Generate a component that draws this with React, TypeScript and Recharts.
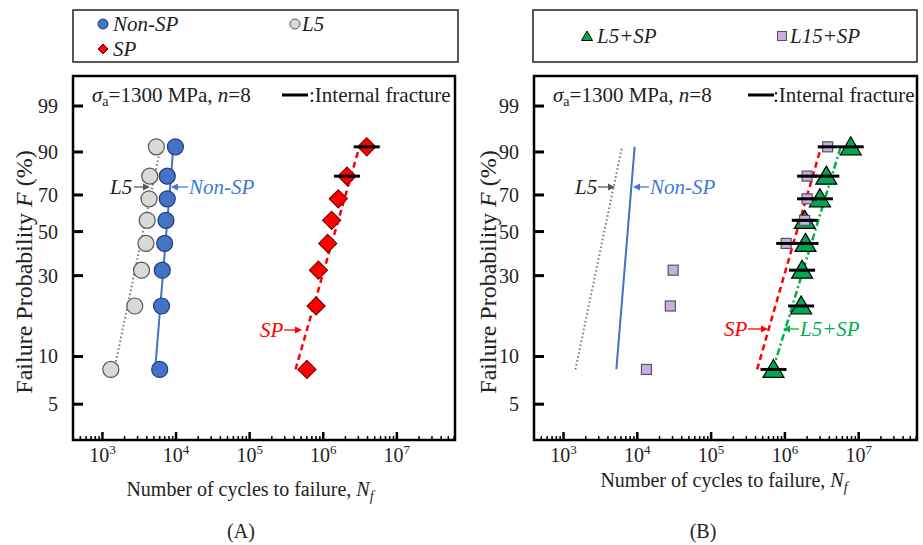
import React from 'react';
import { ScatterChart, Scatter, XAxis, YAxis, ReferenceArea } from 'recharts';

const FONT = '"Liberation Serif", "Times New Roman", Times, serif';

// failure probability (%) of the 8 specimens (median ranks)
const probs = [8.3, 20.2, 32.1, 44.0, 56.0, 67.9, 79.8, 91.7];

// cycles to failure, panel (A)
const nonSpCycles = [6.0e3, 6.35e3, 6.5e3, 7.0e3, 7.3e3, 7.6e3, 7.6e3, 9.8e3];
const l5Cycles = [1.3e3, 2.75e3, 3.4e3, 3.9e3, 4.05e3, 4.3e3, 4.4e3, 5.4e3];
const spCycles = [6.0e5, 8.0e5, 8.6e5, 1.15e6, 1.3e6, 1.6e6, 2.1e6, 3.9e6];
const spInternal = [false, false, false, false, false, false, true, true];

// cycles to failure, panel (B)
const l5spCycles = [7.0e5, 1.66e6, 1.71e6, 1.9e6, 1.86e6, 2.98e6, 3.64e6, 7.8e6];
const l5spInternal = [true, true, true, true, true, true, true, true];
const l15spCycles = [1.33e4, 2.8e4, 3.06e4, 1.04e6, 1.85e6, 2.0e6, 2.0e6, 3.8e6];
const l15spInternal = [false, false, false, true, true, true, true, true];

// fitted lines (end points at the lowest and highest rank)
const fitProbs = [8.3, 91.7];
const l5Fit = [1.45e3, 6.2e3];
const nonSpFit = [5.2e3, 9.2e3];
const spFit = [4.2e5, 3.1e6];
const l5spFit = [6.9e5, 5.7e6];

const probTicks = [5, 10, 30, 50, 70, 90, 99];
const decades = [2, 3, 4, 5, 6, 7];

// weibull probability paper
const weib = (p: number) => Math.log(-Math.log(1 - p / 100));

const X_MIN = 10 ** 2.6;
const X_MAX = 10 ** 7.79;
const Y_MIN = -3.51;
const Y_MAX = 1.98;

const xTicks = decades
  .flatMap((d) => [1, 2, 3, 4, 5, 6, 7, 8, 9].map((m) => m * 10 ** d))
  .filter((v) => v >= X_MIN && v <= X_MAX);
const yTicks = probTicks.map(weib);

const toPoints = (cycles: number[], internal?: boolean[]) =>
  cycles.map((c, i) => ({ x: c, y: weib(probs[i]), internal: internal ? internal[i] : false }));
const toFit = (cycles: number[]) => cycles.map((c, i) => ({ x: c, y: weib(fitProbs[i]) }));

const C = {
  blue: '#4472c4',
  blueText: '#3f78d8',
  grey: '#d9d9d9',
  red: '#ff0000',
  green: '#00a650',
  greenLine: '#00b050',
  purple: '#c9aee6',
};

const XTick = (props: any) => {
  const { x, y, payload } = props;
  const lg = Math.log10(payload.value);
  const major = Math.abs(lg - Math.round(lg)) < 1e-6;
  return (
    <g>
      <line x1={x} x2={x} y1={y} y2={y - (major ? 8 : 4)} stroke="#000" strokeWidth={major ? 2.5 : 1.5} />
      {major && (
        <text x={x} y={y + 22} textAnchor="middle" fontSize={20} style={{ fontFamily: FONT }} fill="#222">
          10<tspan fontSize={13} dy={-8}>{Math.round(lg)}</tspan>
        </text>
      )}
    </g>
  );
};

const YTick = (props: any) => {
  const { x, y, payload } = props;
  const label = Math.round((1 - Math.exp(-Math.exp(payload.value))) * 100);
  return (
    <g>
      <line x1={x} x2={x + 10} y1={y} y2={y} stroke="#000" strokeWidth={3} />
      <text x={x - 15} y={y + 7} textAnchor="end" fontSize={20} style={{ fontFamily: FONT }} fill="#222">
        {label}
      </text>
    </g>
  );
};

const noShape = () => <g />;

const marker = (kind: string, barHalf = 13) => (props: any) => {
  const { cx, cy, payload } = props;
  let m = null;
  if (kind === 'blue') m = <circle cx={cx} cy={cy} r={8} fill={C.blue} stroke="#1f3d7a" strokeWidth={1.2} />;
  if (kind === 'grey') m = <circle cx={cx} cy={cy} r={8} fill={C.grey} stroke="#555" strokeWidth={1.2} />;
  if (kind === 'red')
    m = (
      <polygon
        points={`${cx},${cy - 9} ${cx + 9},${cy} ${cx},${cy + 9} ${cx - 9},${cy}`}
        fill={C.red}
        stroke="#7a0000"
        strokeWidth={1.2}
      />
    );
  if (kind === 'green')
    m = (
      <polygon
        points={`${cx},${cy - 10} ${cx + 10.5},${cy + 8} ${cx - 10.5},${cy + 8}`}
        fill={C.green}
        stroke="#000"
        strokeWidth={1.2}
      />
    );
  if (kind === 'purple')
    m = <rect x={cx - 5} y={cy - 5} width={10} height={10} fill={C.purple} stroke="#555" strokeWidth={1.2} />;
  return (
    <g>
      {m}
      {payload.internal && (
        <line x1={cx - barHalf} x2={cx + barHalf} y1={cy} y2={cy} stroke="#000" strokeWidth={3} />
      )}
    </g>
  );
};

const fitLine = (key: string, cycles: number[], stroke: string, width: number, dash?: string) => (
  <Scatter
    key={key}
    data={toFit(cycles)}
    line={{ stroke, strokeWidth: width, strokeDasharray: dash }}
    shape={noShape}
    isAnimationActive={false}
  />
);

const Panel = ({ left, plotLeft, series }: any) => (
  <div style={{ position: 'absolute', left, top: 0 }}>
    <ScatterChart width={460} height={545} margin={{ top: 76, right: 5, bottom: 75, left: plotLeft - 40 }}>
      <XAxis
        type="number"
        dataKey="x"
        scale="log"
        domain={[X_MIN, X_MAX]}
        ticks={xTicks}
        interval={0}
        allowDataOverflow
        axisLine={false}
        tickLine={false}
        tickSize={0}
        tickMargin={0}
        height={30}
        tick={<XTick />}
      />
      <YAxis
        type="number"
        dataKey="y"
        domain={[Y_MIN, Y_MAX]}
        ticks={yTicks}
        interval={0}
        allowDataOverflow
        axisLine={false}
        tickLine={false}
        tickSize={0}
        tickMargin={0}
        width={40}
        tick={<YTick />}
      />
      {series}
      <ReferenceArea
        x1={X_MIN}
        x2={X_MAX}
        y1={Y_MIN}
        y2={Y_MAX}
        fill="none"
        stroke="#000"
        strokeWidth={2.5}
        ifOverflow="visible"
      />
    </ScatterChart>
  </div>
);

const Arrow = ({ x1, x2, y, color }: any) => {
  const s = Math.sign(x2 - x1);
  return (
    <g>
      <line x1={x1} x2={x2 - s * 5} y1={y} y2={y} stroke={color} strokeWidth={1.3} />
      <polygon points={`${x2},${y} ${x2 - s * 7},${y - 3.5} ${x2 - s * 7},${y + 3.5}`} fill={color} />
    </g>
  );
};

const Notes = ({ ox, lineX, textX }: any) => (
  <g>
    <text x={ox + 92} y={102} fontSize={21}>
      <tspan fontStyle="italic">σ</tspan>
      <tspan fontSize={14} dy={4}>a</tspan>
      <tspan dy={-4}>=1300 MPa, </tspan>
      <tspan fontStyle="italic">n</tspan>=8
    </text>
    <line x1={lineX} x2={lineX + 26} y1={95} y2={95} stroke="#000" strokeWidth={3} />
    <text x={textX} y={102} fontSize={21}>:Internal fracture</text>
  </g>
);

const YTitle = ({ x, y }: any) => (
  <text
    x={x}
    y={y}
    transform={`rotate(-90 ${x} ${y})`}
    textAnchor="middle"
    dominantBaseline="central"
    fontSize={24}
  >
    Failure Probability <tspan fontStyle="italic">F</tspan> (%)
  </text>
);

const XTitle = ({ x, y }: any) => (
  <text x={x} y={y} textAnchor="middle" fontSize={20}>
    Number of cycles to failure, <tspan fontStyle="italic">N</tspan>
    <tspan fontStyle="italic" fontSize={14} dy={5}>f</tspan>
  </text>
);

const App = () => {
  const seriesA = [
    fitLine('fl5', l5Fit, '#777', 2, '1.5 2.5'),
    fitLine('fnon', nonSpFit, C.blue, 2),
    fitLine('fsp', spFit, C.red, 2.5, '6 4'),
    <Scatter key="l5" data={toPoints(l5Cycles)} shape={marker('grey')} isAnimationActive={false} />,
    <Scatter key="non" data={toPoints(nonSpCycles)} shape={marker('blue')} isAnimationActive={false} />,
    <Scatter key="sp" data={toPoints(spCycles, spInternal)} shape={marker('red')} isAnimationActive={false} />,
  ];
  const seriesB = [
    fitLine('fl5', l5Fit, '#777', 2, '1.5 2.5'),
    fitLine('fnon', nonSpFit, C.blue, 2),
    fitLine('fsp', spFit, C.red, 2.5, '6 4'),
    fitLine('fl5sp', l5spFit, C.greenLine, 2.5, '7 3 2 3'),
    <Scatter key="l5sp" data={toPoints(l5spCycles, l5spInternal)} shape={marker('green', 13)} isAnimationActive={false} />,
    <Scatter key="l15sp" data={toPoints(l15spCycles, l15spInternal)} shape={marker('purple', 10)} isAnimationActive={false} />,
  ];

  return (
    <div style={{ position: 'absolute', left: 0, top: 0, width: 923, height: 545, background: '#fff', fontFamily: FONT }}>
      <Panel left={0} plotLeft={73} series={seriesA} />
      <Panel left={462} plotLeft={72} series={seriesB} />
      <svg
        width={923}
        height={545}
        style={{ position: 'absolute', left: 0, top: 0, pointerEvents: 'none', fontFamily: FONT }}
        fill="#222"
      >
        {/* legend boxes */}
        <rect x={73} y={10} width={385} height={52} fill="none" stroke="#222" strokeWidth={1.5} />
        <circle cx={103} cy={24} r={5} fill={C.blue} stroke="#1f3d7a" />
        <text x={113} y={31} fontSize={21} fontStyle="italic">Non-SP</text>
        <circle cx={295} cy={24} r={5} fill={C.grey} stroke="#555" />
        <text x={302} y={31} fontSize={21} fontStyle="italic">L5</text>
        <polygon points="103,44 108,49 103,54 98,49" fill={C.red} stroke="#7a0000" />
        <text x={113} y={56} fontSize={21} fontStyle="italic">SP</text>

        <rect x={533} y={10} width={384} height={52} fill="none" stroke="#222" strokeWidth={1.5} />
        <polygon points="587,31 592.5,40.5 581.5,40.5" fill={C.green} stroke="#000" />
        <text x={597} y={43} fontSize={21} fontStyle="italic">L5+SP</text>
        <rect x={777.5} y={31.5} width={9} height={9} fill={C.purple} stroke="#555" />
        <text x={790} y={43} fontSize={21} fontStyle="italic">L15+SP</text>

        {/* in-plot notes */}
        <Notes ox={0} lineX={282} textX={309} />
        <Notes ox={461} lineX={748} textX={773} />

        {/* panel A labels */}
        <text x={110} y={194} fontSize={21} fontStyle="italic">L5</text>
        <Arrow x1={134} x2={150} y={187} color="#555" />
        <Arrow x1={188} x2={171} y={187} color={C.blueText} />
        <text x={189} y={194} fontSize={21} fontStyle="italic" fill={C.blueText}>Non-SP</text>
        <text x={260} y={337} fontSize={21} fontStyle="italic" fill={C.red}>SP</text>
        <Arrow x1={284} x2={302} y={330} color={C.red} />

        {/* panel B labels */}
        <text x={575} y={194} fontSize={21} fontStyle="italic">L5</text>
        <Arrow x1={598} x2={615} y={187} color="#555" />
        <Arrow x1={649} x2={633} y={187} color={C.blueText} />
        <text x={650} y={194} fontSize={21} fontStyle="italic" fill={C.blueText}>Non-SP</text>
        <text x={724} y={336} fontSize={21} fontStyle="italic" fill={C.red}>SP</text>
        <Arrow x1={748} x2={768} y={329} color={C.red} />
        <Arrow x1={799} x2={783} y={329} color={C.greenLine} />
        <text x={800} y={336} fontSize={21} fontStyle="italic" fill={C.greenLine}>L5+SP</text>

        {/* axis titles */}
        <YTitle x={24} y={272} />
        <YTitle x={488} y={272} />
        <XTitle x={250} y={496} />
        <XTitle x={724} y={487} />
        <text x={241} y={538} textAnchor="middle" fontSize={20}>(A)</text>
        <text x={703} y={538} textAnchor="middle" fontSize={20}>(B)</text>
      </svg>
    </div>
  );
};

export default App;
